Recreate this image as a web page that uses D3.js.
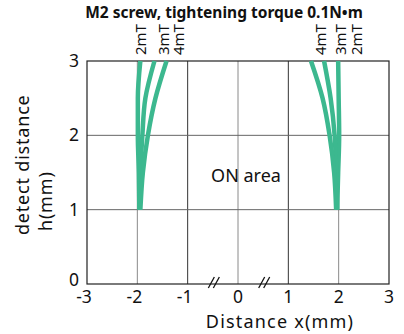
<!DOCTYPE html>
<html>
<head>
<meta charset="utf-8">
<script src="https://cdn.jsdelivr.net/npm/d3@7"></script>
<style>
  body { margin: 0; background: #fff; }
  text { font-family: "Noto Sans", "DejaVu Sans", sans-serif; fill: #111; }
</style>
</head>
<body>
<svg id="chart" width="404" height="334"></svg>
<script>
// detect distance h (mm) where each curve is sampled
const heights = [1, 1.5, 2, 2.5, 3];

// x position (mm) of each curve at those heights
const left2mT = [-1.96, -1.97, -1.99, -1.99, -1.94];
const left3mT = [-1.96, -1.94, -1.90, -1.84, -1.66];
const left4mT = [-1.94, -1.89, -1.79, -1.64, -1.42];
const right2mT = [1.97, 1.99, 2.01, 2.00, 1.99];
const right3mT = [1.97, 1.95, 1.92, 1.84, 1.71];
const right4mT = [1.95, 1.91, 1.82, 1.68, 1.45];

const curveLabels = ['2mT', '3mT', '4mT', '4mT', '3mT', '2mT'];
const curveLabelX = [-1.92, -1.48, -1.18, 1.64, 2.05, 2.37];

const xTicks = [-3, -2, -1, 0, 1, 2, 3];
const yTicks = [0, 1, 2, 3];
const breakX = [-0.48, 0.52];

const svg = d3.select('#chart');
const x = d3.scaleLinear().domain([-3, 3]).range([87, 389]);
const y = d3.scaleLinear().domain([0, 3]).range([284, 61]);

// grid
svg.append('g').selectAll('line')
    .data(xTicks.slice(1, -1))
    .enter().append('line')
    .attr('x1', d => x(d)).attr('x2', d => x(d))
    .attr('y1', y(0)).attr('y2', y(3))
    .attr('stroke', d => (d === -1 || d === 1) ? '#333' : '#8a8a8a')
    .attr('stroke-width', 1);

svg.append('g').selectAll('line')
    .data(yTicks.slice(1, -1))
    .enter().append('line')
    .attr('x1', x(-3)).attr('x2', x(3))
    .attr('y1', d => y(d)).attr('y2', d => y(d))
    .attr('stroke', '#666')
    .attr('stroke-width', 1);

// frame
svg.append('rect')
    .attr('x', x(-3)).attr('y', y(3))
    .attr('width', x(3) - x(-3)).attr('height', y(0) - y(3))
    .attr('fill', 'none').attr('stroke', '#222').attr('stroke-width', 1.2);

// curves
const line = d3.line()
    .curve(d3.curveMonotoneY)
    .x(d => x(d[0]))
    .y(d => y(d[1]));

[left2mT, left3mT, left4mT, right2mT, right3mT, right4mT].forEach(series => {
    svg.append('path')
        .attr('d', line(series.map((v, i) => [v, heights[i]])))
        .attr('fill', 'none')
        .attr('stroke', '#3cb88f')
        .attr('stroke-width', 4.5);
});

// axis break marks
breakX.forEach(b => {
    [-2.5, 2.5].forEach(off => {
        svg.append('line')
            .attr('x1', x(b) + off - 3).attr('y1', y(0) + 4)
            .attr('x2', x(b) + off + 3).attr('y2', y(0) - 7)
            .attr('stroke', '#111').attr('stroke-width', 1.3);
    });
});

// tick labels
svg.append('g').selectAll('text')
    .data(xTicks)
    .enter().append('text')
    .attr('x', d => x(d) + (d < 0 ? -3 : 0))
    .attr('y', 303)
    .attr('text-anchor', 'middle')
    .attr('font-size', 17.5)
    .text(d => d < 0 ? '-' + Math.abs(d) : d);

svg.append('g').selectAll('text')
    .data(yTicks)
    .enter().append('text')
    .attr('x', 79)
    .attr('y', d => y(d) + 6 - (d === 0 ? 4 : 0))
    .attr('text-anchor', 'end')
    .attr('font-size', 17.5)
    .text(d => d);

// curve labels
svg.append('g').selectAll('text')
    .data(curveLabels)
    .enter().append('text')
    .attr('transform', (d, i) => `translate(${x(curveLabelX[i]) + 5},55) rotate(-90)`)
    .attr('font-size', 15)
    .text(d => d);

// titles
svg.append('text')
    .attr('x', 224).attr('y', 18)
    .attr('text-anchor', 'middle')
    .attr('font-size', 15.5)
    .attr('font-weight', 'bold')
    .text('M2 screw, tightening torque 0.1N\u2022m');

svg.append('text')
    .attr('x', 280).attr('y', 328)
    .attr('text-anchor', 'middle')
    .attr('font-size', 18)
    .attr('letter-spacing', 1.2)
    .text('Distance x(mm)');

svg.append('text')
    .attr('transform', 'translate(29,235) rotate(-90)')
    .attr('font-size', 18)
    .attr('letter-spacing', 0.8)
    .text('detect distance');

svg.append('text')
    .attr('transform', 'translate(52,231) rotate(-90)')
    .attr('font-size', 18)
    .attr('letter-spacing', 0.8)
    .text('h(mm)');

svg.append('text')
    .attr('x', 246).attr('y', 182)
    .attr('text-anchor', 'middle')
    .attr('font-size', 18)
    .text('ON area');
</script>
</body>
</html>
